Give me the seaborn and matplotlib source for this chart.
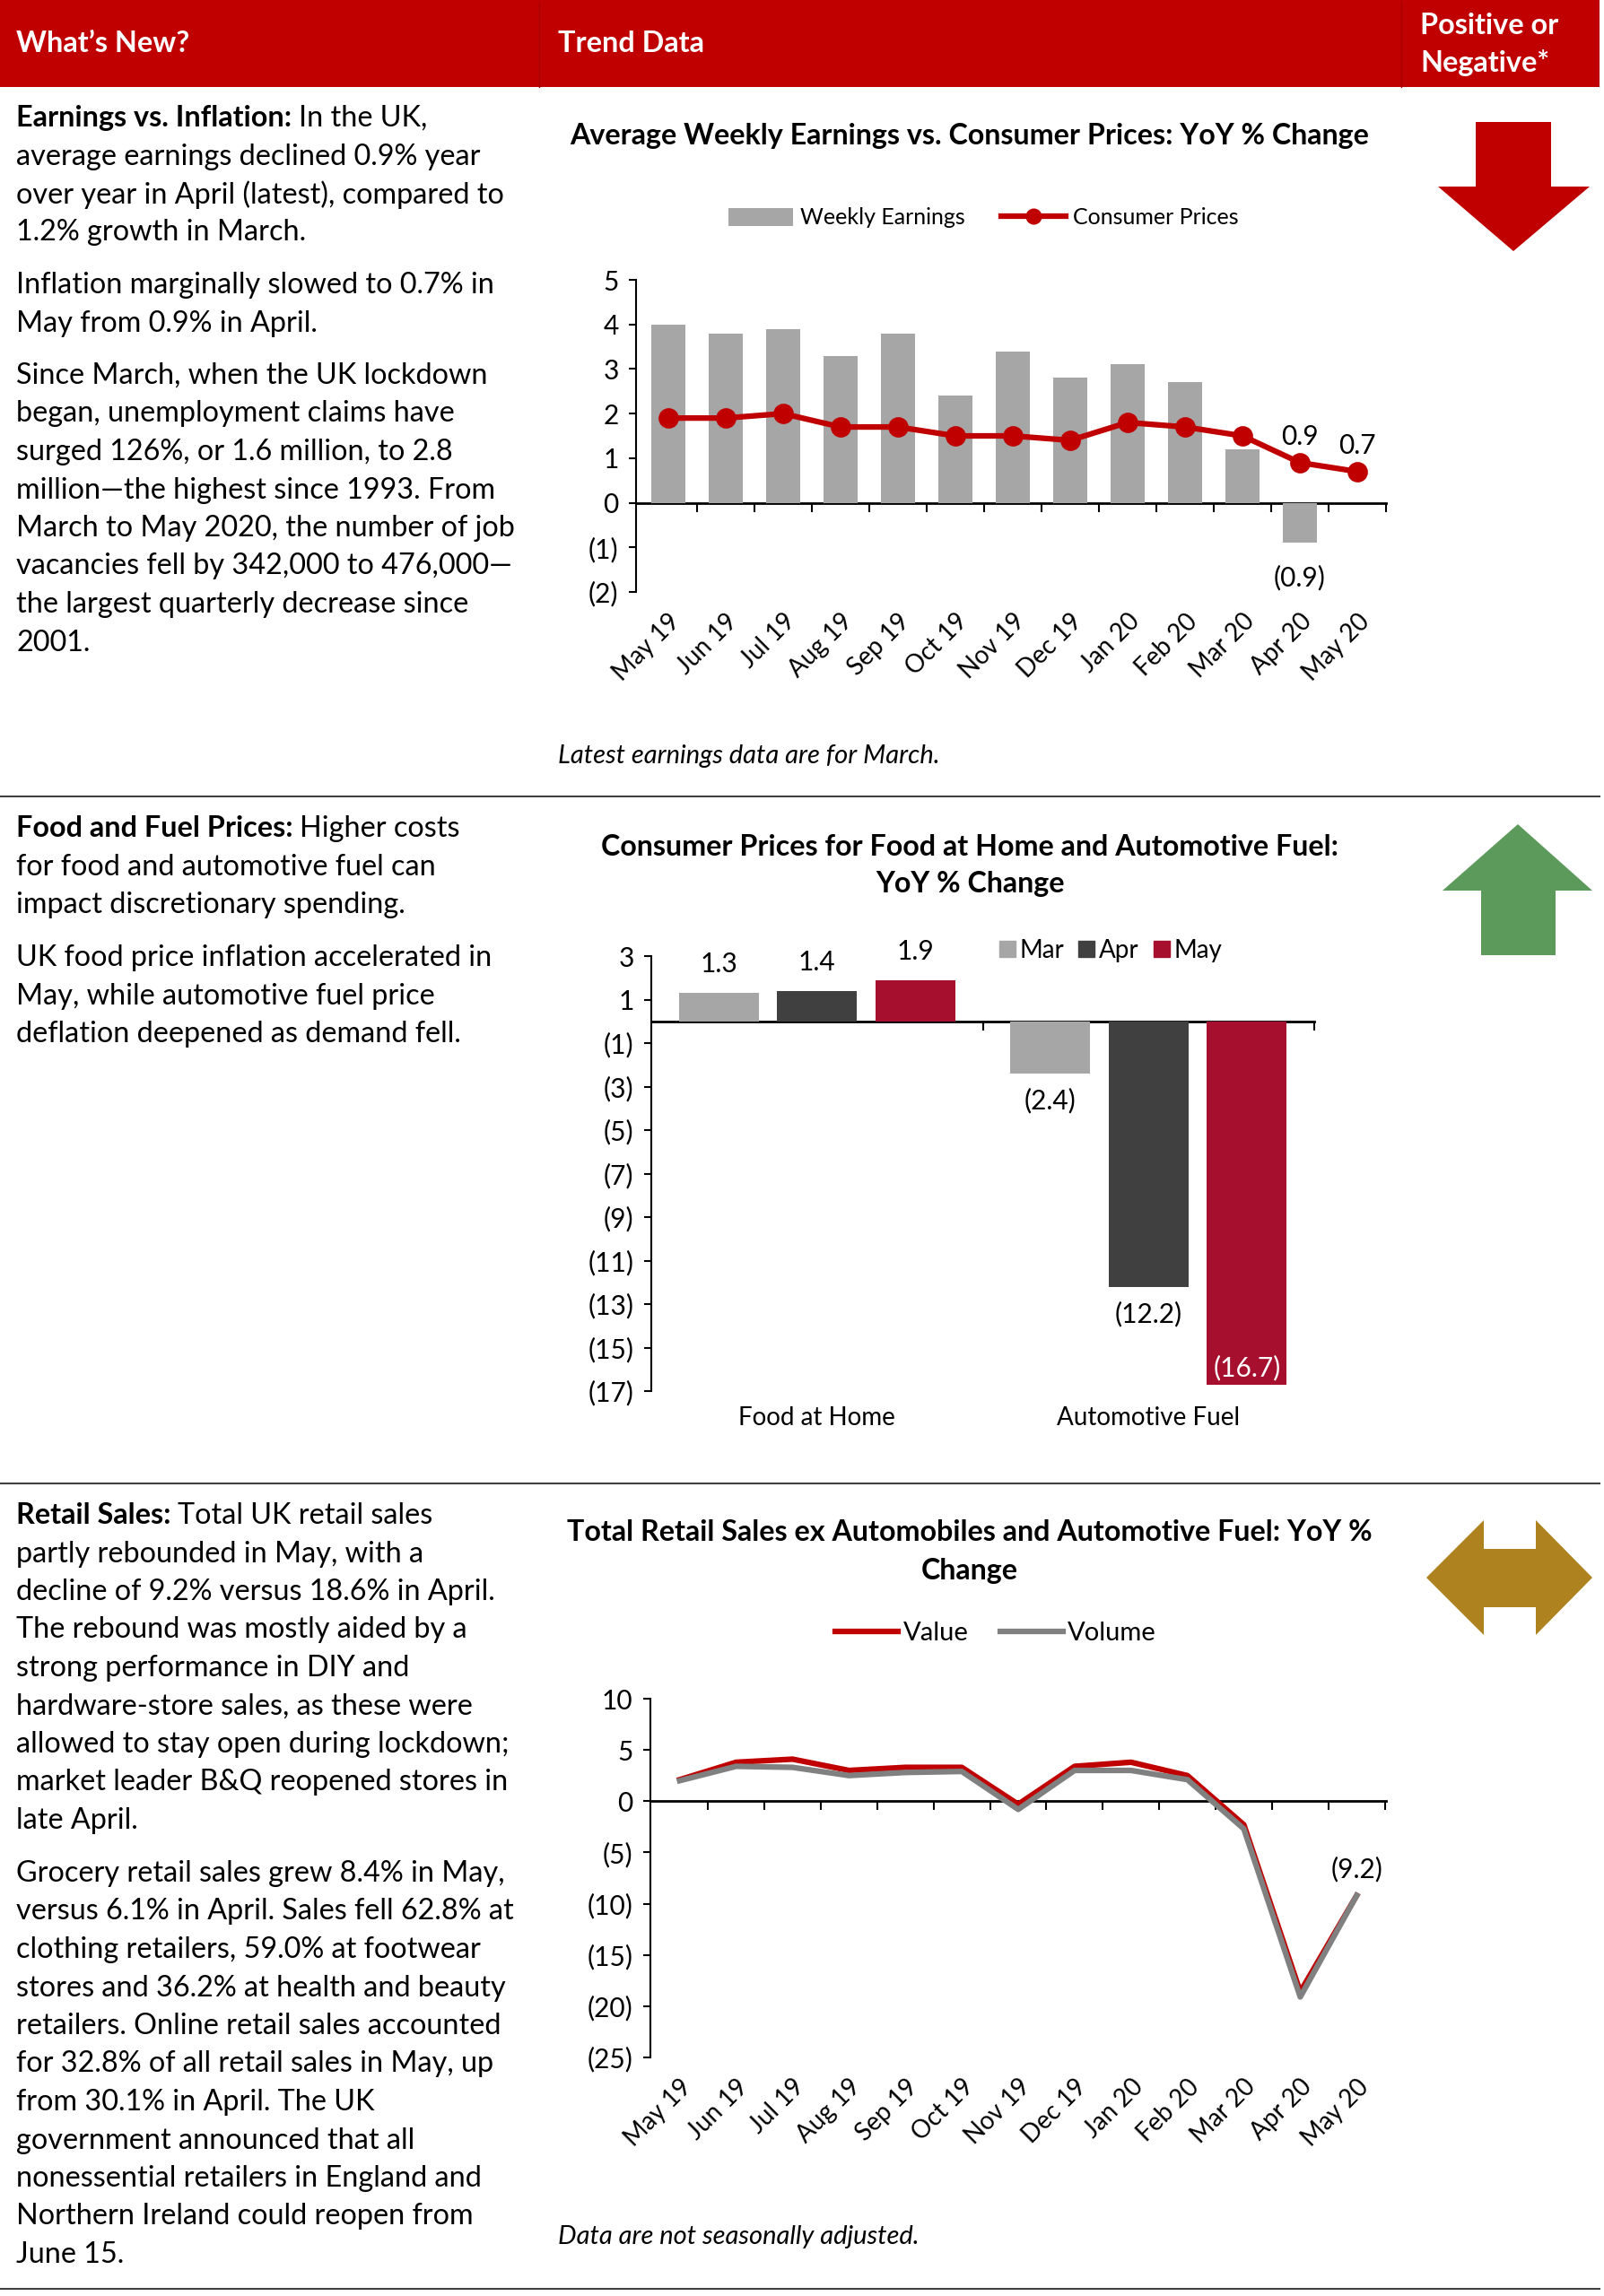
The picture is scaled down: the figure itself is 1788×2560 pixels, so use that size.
import numpy as np
import pandas as pd
import matplotlib
matplotlib.use('Agg')
import matplotlib.pyplot as plt
import matplotlib.ticker as tick
import matplotlib.lines as mlines
import matplotlib.patches as mpatches
import seaborn as sns

# --- data -----------------------------------------------------------------
months = ['May 19', 'Jun 19', 'Jul 19', 'Aug 19', 'Sep 19', 'Oct 19', 'Nov 19',
          'Dec 19', 'Jan 20', 'Feb 20', 'Mar 20', 'Apr 20', 'May 20']
weekly_earnings = [4.0, 3.8, 3.9, 3.3, 3.8, 2.4, 3.4, 2.8, 3.1, 2.7, 1.2, -0.9, np.nan]
consumer_prices = [1.9, 1.9, 2.0, 1.7, 1.7, 1.5, 1.5, 1.4, 1.8, 1.7, 1.5, 0.9, 0.7]

price_groups = ['Food at Home', 'Automotive Fuel']
price_months = ['Mar', 'Apr', 'May']
food_at_home = [1.3, 1.4, 1.9]
automotive_fuel = [-2.4, -12.2, -16.7]

retail_value = [2.1, 3.8, 4.1, 3.0, 3.3, 3.3, -0.3, 3.4, 3.8, 2.5, -2.3, -18.6, -9.2]
retail_volume = [2.0, 3.4, 3.3, 2.5, 2.8, 2.9, -0.8, 3.0, 3.0, 2.1, -2.7, -19.1, -9.2]

RED = '#C00000'
GREY = '#A6A6A6'
W, H = 1788, 2560
BODY = 23.3
TITLE = 23.2
NUM = 21.5

plt.rcParams['font.family'] = ['Lato', 'DejaVu Sans']

fig = plt.figure(figsize=(W / 100, H / 100), dpi=100)
renderer = fig.canvas.get_renderer()


def fx(x):
    return x / W


def fy(y):
    return 1 - y / H


def rect(left, top, right, bottom):
    return [left / W, 1 - bottom / H, (right - left) / W, (bottom - top) / H]


def paren_formatter(x, pos=None):
    if x < 0:
        return f'({abs(x):g})'
    return f'{x:g}'


def put_lines(lines, x, y0, size=BODY, step=42.5, lead=None, **kw):
    for i, line in enumerate(lines):
        xi = x
        if i == 0 and lead:
            t = fig.text(fx(x), fy(y0), lead, fontsize=size, fontweight='bold',
                         va='center_baseline', **kw)
            xi = x + t.get_window_extent(renderer).width
        fig.text(fx(xi), fy(y0 + i * step), line, fontsize=size,
                 va='center_baseline', **kw)


def zero_axis(ax, bounds):
    y0, y1 = ax.get_ylim()
    sec = ax.secondary_xaxis(-y0 / (y1 - y0))
    sec.set_alignment('bottom')
    sec.set_xticks(bounds)
    sec.tick_params(axis='x', direction='out', length=7, width=1.5, labelbottom=False)
    sec.spines['bottom'].set_linewidth(2)
    return sec


def style_axis(ax):
    for s in ['top', 'right', 'bottom']:
        ax.spines[s].set_visible(False)
    ax.spines['left'].set_linewidth(1.5)
    ax.yaxis.set_major_formatter(tick.FuncFormatter(paren_formatter))
    ax.tick_params(axis='y', direction='out', length=6, width=1.5, labelsize=NUM, pad=8)
    ax.set_xlabel('')
    ax.set_ylabel('')


def rotate_labels(ax):
    for lbl in ax.get_xticklabels():
        lbl.set_rotation(45)
        lbl.set_ha('right')
        lbl.set_rotation_mode('anchor')


# --- header and frame -------------------------------------------------------
fig.add_artist(mpatches.Rectangle((0, fy(97)), fx(1783), 97 / H, transform=fig.transFigure,
                                  facecolor=RED, edgecolor='none'))
for xs in [601, 1562]:
    fig.add_artist(mlines.Line2D([fx(xs)] * 2, [fy(97), fy(2)], color='#A80000', lw=1,
                                 transform=fig.transFigure))
hdr = dict(color='white', fontsize=23.3, fontweight='bold', va='center')
fig.text(fx(18), fy(49), 'What’s New?', **hdr)
fig.text(fx(622), fy(49), 'Trend Data', **hdr)
fig.text(fx(1583), fy(29), 'Positive or', **hdr)
fig.text(fx(1583), fy(70), 'Negative*', **hdr)
for ys in [888, 1654, 2552]:
    fig.add_artist(mlines.Line2D([0, fx(1783)], [fy(ys)] * 2, color='#404040', lw=1.5,
                                 transform=fig.transFigure))

# --- left column text -------------------------------------------------------
put_lines(['In the UK,', 'average earnings declined 0.9% year',
           'over year in April (latest), compared to', '1.2% growth in March.'],
          18, 129, lead='Earnings vs. Inflation: ')
put_lines(['Inflation marginally slowed to 0.7% in', 'May from 0.9% in April.'], 18, 315)
put_lines(['Since March, when the UK lockdown', 'began, unemployment claims have',
           'surged 126%, or 1.6 million, to 2.8', 'million—the highest since 1993. From',
           'March to May 2020, the number of job', 'vacancies fell by 342,000 to 476,000—',
           'the largest quarterly decrease since', '2001.'], 18, 416)

put_lines(['Higher costs', 'for food and automotive fuel can', 'impact discretionary spending.'],
          18, 921, lead='Food and Fuel Prices: ')
put_lines(['UK food price inflation accelerated in', 'May, while automotive fuel price',
           'deflation deepened as demand fell.'], 18, 1065)

put_lines(['Total UK retail sales', 'partly rebounded in May, with a',
           'decline of 9.2% versus 18.6% in April.', 'The rebound was mostly aided by a',
           'strong performance in DIY and', 'hardware-store sales, as these were',
           'allowed to stay open during lockdown;', 'market leader B&Q reopened stores in',
           'late April.'], 18, 1687, lead='Retail Sales: ')
put_lines(['Grocery retail sales grew 8.4% in May,', 'versus 6.1% in April. Sales fell 62.8% at',
           'clothing retailers, 59.0% at footwear', 'stores and 36.2% at health and beauty',
           'retailers. Online retail sales accounted', 'for 32.8% of all retail sales in May, up',
           'from 30.1% in April. The UK', 'government announced that all',
           'nonessential retailers in England and', 'Northern Ireland could reopen from',
           'June 15.'], 18, 2086)

# --- chart 1: earnings vs consumer prices ------------------------------------
put_lines(['Average Weekly Earnings vs. Consumer Prices: YoY % Change'], 1081, 149,
          size=TITLE, fontweight='bold', ha='center')
ax1 = fig.add_axes(rect(709, 312, 1545, 660))
sns.barplot(x=months, y=weekly_earnings, color=GREY, saturation=1, width=0.6, ax=ax1)
sns.pointplot(x=months, y=consumer_prices, color=RED, errorbar=None, markersize=13,
              linewidth=4.5, ax=ax1)
ax1.set_ylim(-2, 5)
ax1.set_xlim(-0.56, 12.5)
ax1.yaxis.set_major_locator(tick.MultipleLocator(1))
style_axis(ax1)
ax1.tick_params(axis='x', length=0, labelsize=20, pad=14)
rotate_labels(ax1)
zero_axis(ax1, [i + 0.5 for i in range(len(months))])
apr = months.index('Apr 20')
for i in [apr, apr + 1]:
    ax1.annotate(paren_formatter(consumer_prices[i]), (i, consumer_prices[i]), xytext=(0, 21),
                 textcoords='offset points', ha='center', va='center', fontsize=NUM)
ax1.annotate(paren_formatter(weekly_earnings[apr]), (apr, weekly_earnings[apr]), xytext=(0, -28),
             textcoords='offset points', ha='center', va='center', fontsize=NUM)
h1 = [mpatches.Patch(facecolor=GREY),
      mlines.Line2D([0], [0], color=RED, lw=4.5, marker='o', markersize=12)]
fig.legend(h1, ['Weekly Earnings', 'Consumer Prices'], loc='center', ncol=2, frameon=False,
           bbox_to_anchor=(fx(1096), fy(243)), fontsize=18, handlelength=2.9, handleheight=0.9,
           handletextpad=0.3, columnspacing=1.6)
fig.text(fx(622), fy(843), 'Latest earnings data are for March.', style='italic', fontsize=21,
         va='center')

# --- chart 2: food and fuel prices --------------------------------------------
put_lines(['Consumer Prices for Food at Home and Automotive Fuel:', 'YoY % Change'], 1081, 942,
          size=TITLE, step=41, fontweight='bold', ha='center')
df2 = pd.DataFrame({'group': np.repeat(price_groups, len(price_months)),
                    'month': price_months * len(price_groups),
                    'value': food_at_home + automotive_fuel})
ax2 = fig.add_axes(rect(726, 1066, 1465, 1551))
month_colors = ['#A6A6A6', '#404040', '#A6102E']
sns.barplot(data=df2, x='group', y='value', hue='month', hue_order=price_months,
            palette=month_colors, saturation=1, width=0.89, gap=0.19, legend=False, ax=ax2)
ax2.set_ylim(-17, 3)
ax2.set_xlim(-0.5, 1.5)
ax2.set_yticks(range(-17, 4, 2))
style_axis(ax2)
ax2.tick_params(axis='x', length=0, labelsize=20, pad=12)
zero_axis(ax2, [0.5, 1.5])
ymin = ax2.get_ylim()[0]
for i, bars in enumerate(ax2.containers):
    vals = [food_at_home[i], automotive_fuel[i]]
    for bar, v in zip(bars, vals):
        xc = bar.get_x() + bar.get_width() / 2
        if v >= 0:
            ax2.annotate(paren_formatter(v), (xc, v), xytext=(0, 23), textcoords='offset points',
                         ha='center', va='center', fontsize=NUM)
        elif v - 2 < ymin:
            ax2.annotate(paren_formatter(v), (xc, v), xytext=(0, 3), textcoords='offset points',
                         ha='center', va='bottom', fontsize=NUM, color='white')
        else:
            ax2.annotate(paren_formatter(v), (xc, v), xytext=(0, -22), textcoords='offset points',
                         ha='center', va='center', fontsize=NUM)
h2 = [mlines.Line2D([0], [0], color=c, marker='s', markersize=13, lw=0) for c in month_colors]
fig.legend(h2, price_months, loc='center', ncol=3, frameon=False,
           bbox_to_anchor=(fx(1237), fy(1060)), fontsize=20, handlelength=0.8,
           handletextpad=0.1, columnspacing=0.5)

# --- chart 3: retail sales ------------------------------------------------------
put_lines(['Total Retail Sales ex Automobiles and Automotive Fuel: YoY %', 'Change'], 1081, 1706,
          size=TITLE, step=43, fontweight='bold', ha='center')
df3 = pd.DataFrame({'month': months * 2,
                    'series': ['Value'] * len(months) + ['Volume'] * len(months),
                    'value': retail_value + retail_volume})
ax3 = fig.add_axes(rect(725, 1894, 1545, 2294))
sns.lineplot(data=df3, x='month', y='value', hue='series', palette=[RED, '#808080'],
             linewidth=4.5, sort=False, legend=False, ax=ax3)
ax3.set_ylim(-25, 10)
ax3.set_xlim(-0.52, 12.52)
ax3.set_yticks(range(-25, 11, 5))
style_axis(ax3)
ax3.tick_params(axis='x', length=0, labelsize=20, pad=14)
rotate_labels(ax3)
zero_axis(ax3, [i + 0.5 for i in range(len(months))])
last = len(months) - 1
ax3.annotate(paren_formatter(retail_value[last]), (last, retail_value[last]), xytext=(0, 21),
             textcoords='offset points', ha='center', va='center', fontsize=NUM)
h3 = [mlines.Line2D([0], [0], color=RED, lw=4.5), mlines.Line2D([0], [0], color='#808080', lw=4.5)]
fig.legend(h3, ['Value', 'Volume'], loc='center', ncol=2, frameon=False,
           bbox_to_anchor=(fx(1110), fy(1821)), fontsize=21, handlelength=2.4,
           handletextpad=0.2, columnspacing=1.2)
fig.text(fx(622), fy(2494), 'Data are not seasonally adjusted.', style='italic', fontsize=21,
         va='center')

# --- positive / negative arrows ---------------------------------------------------
down = [(1645, 136), (1729, 136), (1729, 208), (1772, 208), (1687, 280), (1603, 208), (1645, 208)]
up = [(1692, 919), (1775, 993), (1734, 993), (1734, 1065), (1651, 1065), (1651, 993), (1608, 993)]
both = [(1590, 1759), (1654, 1695), (1654, 1727), (1712, 1727), (1712, 1695), (1775, 1759),
        (1712, 1823), (1712, 1792), (1654, 1792), (1654, 1823)]
for pts, col in [(down, RED), (up, '#5C9A5B'), (both, '#AF8220')]:
    fig.add_artist(mpatches.Polygon([(fx(a), fy(b)) for a, b in pts], closed=True,
                                    facecolor=col, edgecolor='none', transform=fig.transFigure))

fig.savefig('out.png', dpi=100, facecolor='white')
